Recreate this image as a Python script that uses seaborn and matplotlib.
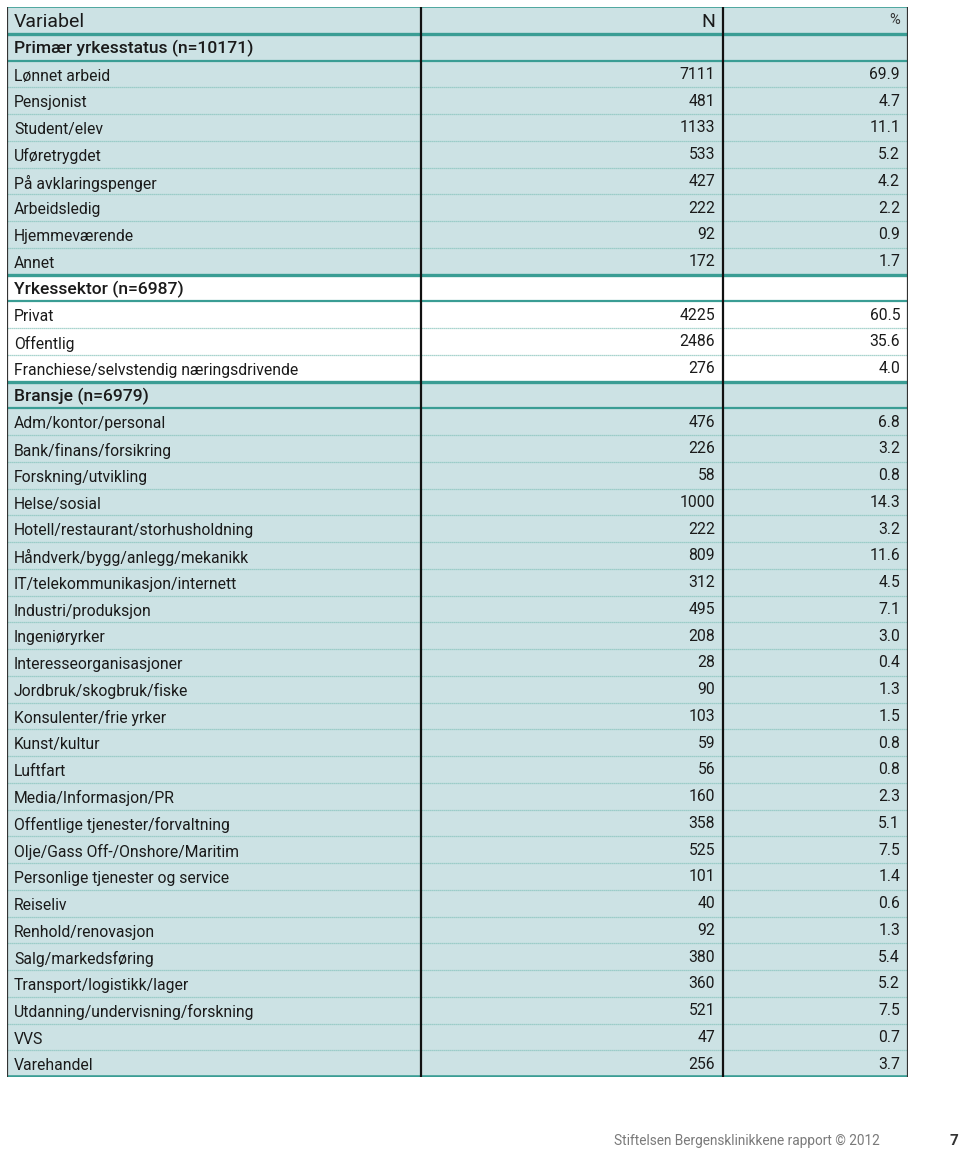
import numpy as np
import pandas as pd
import matplotlib
matplotlib.use('Agg')
import matplotlib.pyplot as plt
import seaborn as sns
from matplotlib.colors import ListedColormap

# table content
header = ['Variabel', 'N', '%']

primaer_title = 'Primær yrkesstatus (n=10171)'
primaer_labels = ['Lønnet arbeid', 'Pensjonist', 'Student/elev', 'Uføretrygdet',
                  'På avklaringspenger', 'Arbeidsledig', 'Hjemmeværende', 'Annet']
primaer_n = [7111, 481, 1133, 533, 427, 222, 92, 172]
primaer_pct = [69.9, 4.7, 11.1, 5.2, 4.2, 2.2, 0.9, 1.7]

sektor_title = 'Yrkessektor (n=6987)'
sektor_labels = ['Privat', 'Offentlig', 'Franchiese/selvstendig næringsdrivende']
sektor_n = [4225, 2486, 276]
sektor_pct = [60.5, 35.6, 4.0]

bransje_title = 'Bransje (n=6979)'
bransje_labels = ['Adm/kontor/personal', 'Bank/finans/forsikring', 'Forskning/utvikling',
                  'Helse/sosial', 'Hotell/restaurant/storhusholdning',
                  'Håndverk/bygg/anlegg/mekanikk', 'IT/telekommunikasjon/internett',
                  'Industri/produksjon', 'Ingeniøryrker', 'Interesseorganisasjoner',
                  'Jordbruk/skogbruk/fiske', 'Konsulenter/frie yrker', 'Kunst/kultur',
                  'Luftfart', 'Media/Informasjon/PR', 'Offentlige tjenester/forvaltning',
                  'Olje/Gass Off-/Onshore/Maritim', 'Personlige tjenester og service',
                  'Reiseliv', 'Renhold/renovasjon', 'Salg/markedsføring',
                  'Transport/logistikk/lager', 'Utdanning/undervisning/forskning',
                  'VVS', 'Varehandel']
bransje_n = [476, 226, 58, 1000, 222, 809, 312, 495, 208, 28, 90, 103, 59, 56, 160,
             358, 525, 101, 40, 92, 380, 360, 521, 47, 256]
bransje_pct = [6.8, 3.2, 0.8, 14.3, 3.2, 11.6, 4.5, 7.1, 3.0, 0.4, 1.3, 1.5, 0.8, 0.8,
               2.3, 5.1, 7.5, 1.4, 0.6, 1.3, 5.4, 5.2, 7.5, 0.7, 3.7]

footer = 'Stiftelsen Bergensklinikkene rapport © 2012'
page_no = '7'

# build rows: kind h=header, s=section, i=item ; shade 0=blue, 1=white
rows = [dict(kind='h', label=header[0], n=header[1], pct=header[2], shade=0)]
sections = [(primaer_title, primaer_labels, primaer_n, primaer_pct, 0),
            (sektor_title, sektor_labels, sektor_n, sektor_pct, 1),
            (bransje_title, bransje_labels, bransje_n, bransje_pct, 0)]
for title, labels, ns, pcts, shade in sections:
    rows.append(dict(kind='s', label=title, n='', pct='', shade=shade))
    for lab, n, p in zip(labels, ns, pcts):
        rows.append(dict(kind='i', label=lab, n=str(n), pct=f'{p:.1f}', shade=shade))
df = pd.DataFrame(rows)
nrows = len(df)

fill = '#cce2e4'
teal = '#3a9d94'
dots = '#8cc6bf'
txt = '#1a1a1a'

sns.set_theme(style='white')
plt.rcParams['font.family'] = ['Roboto', 'DejaVu Sans']

fig = plt.figure(figsize=(9.6, 11.5), dpi=100)
ax = fig.add_axes([7 / 960, 73 / 1150, 901 / 960, 1070 / 1150])

sns.heatmap(df[['shade']].to_numpy(), ax=ax, cmap=ListedColormap([fill, 'white']),
            vmin=0, vmax=1, cbar=False, xticklabels=False, yticklabels=False)
ax.set_xlim(0, 1)
ax.set_ylim(nrows, 0)

# column boundaries (fraction of table width)
c1 = 414 / 901
c2 = 716 / 901
pad_l = 7 / 901
pad_r = 8 / 901

for i, r in df.iterrows():
    y = i + 0.5
    if r['kind'] == 'h':
        ax.text(pad_l, y + 0.05, r['label'], ha='left', va='center', fontsize=14,
                color=txt)
        ax.text(c2 - pad_r, y + 0.05, r['n'], ha='right', va='center', fontsize=14,
                color=txt)
        ax.text(1 - pad_r, y, r['pct'], ha='right', va='center', fontsize=10.5,
                color='#333333')
    elif r['kind'] == 's':
        ax.text(pad_l, y + 0.05, r['label'], ha='left', va='center', fontsize=12.6,
                fontweight='medium', color=txt)
    else:
        ax.text(pad_l, y + 0.08, r['label'], ha='left', va='center', fontsize=11.3,
                color=txt)
        ax.text(c2 - pad_r, y + 0.02, r['n'], ha='right', va='center', fontsize=11.3,
                color=txt)
        ax.text(1 - pad_r, y + 0.02, r['pct'], ha='right', va='center', fontsize=11.3,
                color=txt)

# horizontal rules
kinds = df['kind'].tolist()
ax.axhline(0, color=teal, lw=1.2)
for i in range(1, nrows):
    prev, cur = kinds[i - 1], kinds[i]
    if prev == 'h':
        ax.axhline(i, color=teal, lw=2.4)
    elif cur == 's':
        ax.axhline(i, color=teal, lw=2.4)
    elif prev == 's':
        ax.axhline(i, color=teal, lw=1.6)
    else:
        ax.axhline(i, color=dots, lw=0.9, ls=(0, (1, 0.6)))
ax.axhline(nrows, color=teal, lw=2.6)

# vertical rules
for x, c, lw in [(0, '#333333', 1.6), (c1, '#111111', 1.6), (c2, '#111111', 1.6),
                 (1, '#333333', 1.6)]:
    ax.axvline(x, ymin=0.0, ymax=1.0, color=c, lw=lw)

for s in ax.spines.values():
    s.set_visible(False)

fig.text(880 / 960, 1 - 1141 / 1150, footer, ha='right', va='center', fontsize=9.8,
         color='#7a7a7a')
fig.text(958 / 960, 1 - 1141 / 1150, page_no, ha='right', va='center', fontsize=11,
         color='#333333', fontweight='bold')

fig.savefig('out.png', dpi=100)
